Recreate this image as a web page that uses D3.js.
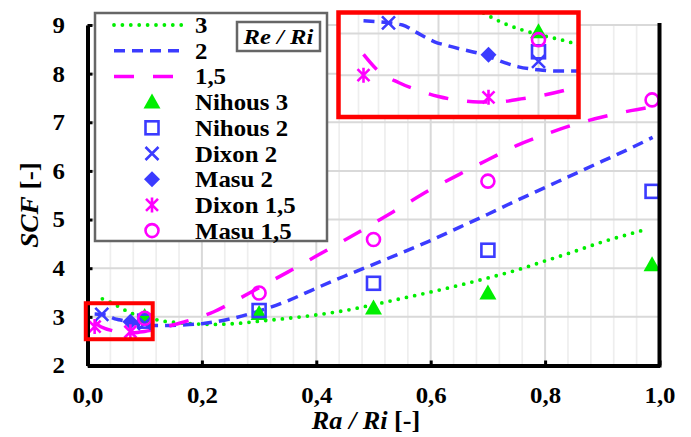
<!DOCTYPE html>
<html>
<head>
<meta charset="utf-8">
<script src="https://cdn.jsdelivr.net/npm/d3@7"></script>
<style>
body { margin: 0; background: #fff; }
</style>
</head>
<body>
<script>
// fitted curves (Re/Ri = 3, 2, 1,5)
const curve3 = [[0.026,3.37],[0.04,3.30],[0.072,3.10],[0.083,3.047],[0.092,3.016],[0.102,2.99],[0.115,2.96],[0.124,2.93],[0.15,2.89],[0.18,2.86],[0.22,2.845],[0.267,2.87],[0.3,2.91],[0.35,2.97],[0.4,3.04],[0.45,3.13],[0.5,3.25],[0.55,3.38],[0.6,3.51],[0.65,3.65],[0.7,3.80],[0.75,3.96],[0.8,4.15],[0.85,4.34],[0.9,4.54],[0.95,4.71],[0.977,4.80]]
const curve2 = [[0.0125,3.06],[0.032,3.04],[0.038,3.01],[0.048,2.96],[0.055,2.94],[0.075,2.89],[0.083,2.86],[0.09,2.84],[0.1,2.826],[0.11,2.82],[0.121,2.82],[0.16,2.83],[0.2,2.86],[0.25,2.96],[0.3,3.12],[0.35,3.33],[0.4,3.59],[0.45,3.84],[0.5,4.08],[0.55,4.32],[0.6,4.57],[0.65,4.84],[0.7,5.11],[0.75,5.39],[0.8,5.66],[0.85,5.93],[0.9,6.2],[0.95,6.47],[0.988,6.69]]
const curve15 = [[0.0125,2.90],[0.02,2.82],[0.03,2.765],[0.04,2.727],[0.05,2.698],[0.06,2.68],[0.07,2.672],[0.08,2.672],[0.09,2.685],[0.1,2.70],[0.12,2.745],[0.155,2.85],[0.19,2.97],[0.22,3.10],[0.255,3.31],[0.3,3.60],[0.35,3.92],[0.4,4.25],[0.45,4.58],[0.5,4.92],[0.55,5.27],[0.6,5.62],[0.65,5.93],[0.7,6.23],[0.75,6.52],[0.8,6.75],[0.85,6.95],[0.9,7.11],[0.95,7.24],[0.988,7.32]]

// measured points
const nihous3 = [[0.1,3.008],[0.3,3.07],[0.5,3.18],[0.7,3.49],[0.987,4.07]]
const nihous2 = [[0.1,2.912],[0.3,3.13],[0.5,3.69],[0.7,4.37],[0.987,5.58]]
const dixon2 = [[0.025,3.05],[0.1,2.866]]
const masu2 = [[0.075,2.898]]
const dixon15 = [[0.0125,2.80],[0.075,2.694]]
const masu15 = [[0.1,2.97],[0.3,3.49],[0.5,4.59],[0.7,5.79],[0.987,7.46]]

const xTicks = [0, 0.2, 0.4, 0.6, 0.8, 1.0]
const xTickLabels = ["0,0", "0,2", "0,4", "0,6", "0,8", "1,0"]
const yTicks = [2, 3, 4, 5, 6, 7, 8, 9]
const legendLabels = ["3", "2", "1,5", "Nihous 3", "Nihous 2", "Dixon 2", "Masu 2", "Dixon 1,5", "Masu 1,5"]

// zoomed window shown in the red inset
const zoomX = [0, 0.12]
const zoomY = [2.6, 3.1]

const w = 691
const h = 437
const green = "#00ee00", blue = "#3b3bff", magenta = "#ff00ff"
const serif = "'Liberation Serif', 'Times New Roman', Tinos, serif"

const svg = d3.select("body").append("svg")
    .attr("width", w)
    .attr("height", h)

const x = d3.scaleLinear().domain([0, 1]).range([87.5, 659.5])
const y = d3.scaleLinear().domain([2, 9]).range([365.5, 25])

// grid
const minor = d3.range(0.04, 1, 0.04).filter(v => Math.abs(v / 0.2 - Math.round(v / 0.2)) > 0.01)
svg.append("g").selectAll("line").data(minor).enter().append("line")
    .attr("x1", d => x(d)).attr("x2", d => x(d))
    .attr("y1", y(9)).attr("y2", y(2))
    .attr("stroke", "#eeeeee").attr("stroke-width", 1.7)
svg.append("g").selectAll("line").data(xTicks.slice(1, -1)).enter().append("line")
    .attr("x1", d => x(d)).attr("x2", d => x(d))
    .attr("y1", y(9)).attr("y2", y(2))
    .attr("stroke", "#d9d9d9").attr("stroke-width", 2)
svg.append("g").selectAll("line").data(yTicks.slice(1)).enter().append("line")
    .attr("x1", x(0)).attr("x2", x(1))
    .attr("y1", d => y(d)).attr("y2", d => y(d))
    .attr("stroke", "#d9d9d9").attr("stroke-width", 2)

// marker shapes
function marker(g, type, cx, cy) {
    const s = g.append("g").attr("transform", "translate(" + cx + "," + cy + ")")
    if (type == "tri") {
        s.append("path").attr("d", "M0,-8.5L8.5,6.5L-8.5,6.5Z").attr("fill", green)
    } else if (type == "square") {
        s.append("rect").attr("x", -6.5).attr("y", -6.5).attr("width", 13).attr("height", 13)
            .attr("fill", "none").attr("stroke", blue).attr("stroke-width", 2.6)
    } else if (type == "x") {
        s.append("path").attr("d", "M-6.5,-6.5L6.5,6.5M-6.5,6.5L6.5,-6.5")
            .attr("stroke", blue).attr("stroke-width", 2.6)
    } else if (type == "diamond") {
        s.append("path").attr("d", "M0,-8L8,0L0,8L-8,0Z").attr("fill", blue)
    } else if (type == "star") {
        s.append("path").attr("d", "M-6,-6L6,6M-6,6L6,-6M0,-7.5L0,7.5")
            .attr("stroke", magenta).attr("stroke-width", 2.6)
    } else if (type == "circle") {
        s.append("circle").attr("r", 6.5).attr("fill", "none")
            .attr("stroke", magenta).attr("stroke-width", 2.6)
    }
}

const lineStyles = [
    { data: curve3, color: green, dash: "0,8.4", width: 3.8, cap: "round" },
    { data: curve2, color: blue, dash: "11,7", width: 3.5, cap: "butt" },
    { data: curve15, color: magenta, dash: "20,19", width: 3.5, cap: "butt" }
]
const pointSets = [
    { data: nihous3, type: "tri" },
    { data: nihous2, type: "square" },
    { data: dixon2, type: "x" },
    { data: masu2, type: "diamond" },
    { data: dixon15, type: "star" },
    { data: masu15, type: "circle" }
]

function drawSeries(g, xs, ys) {
    const line = d3.line().x(d => xs(d[0])).y(d => ys(d[1])).curve(d3.curveMonotoneX)
    lineStyles.forEach(l => {
        g.append("path").attr("d", line(l.data))
            .attr("fill", "none").attr("stroke", l.color)
            .attr("stroke-width", l.width).attr("stroke-dasharray", l.dash)
            .attr("stroke-linecap", l.cap)
    })
    pointSets.forEach(p => {
        p.data.forEach(d => marker(g, p.type, xs(d[0]), ys(d[1])))
    })
}

drawSeries(svg.append("g"), x, y)

// axes
const yAxis = d3.axisLeft(y).tickValues(yTicks).tickSize(-5).tickSizeOuter(0).tickPadding(20.8)
    .tickFormat(d => d)
const gy = svg.append("g").attr("transform", "translate(" + x(0) + ",0)").call(yAxis)
const xAxis = d3.axisBottom(x).tickValues(xTicks).tickSize(-5).tickSizeOuter(0).tickPadding(21)
    .tickFormat((d, i) => xTickLabels[i])
const gx = svg.append("g").attr("transform", "translate(0," + y(2) + ")").call(xAxis)
;[gx, gy].forEach(g => {
    g.attr("font-family", null)
    g.select(".domain").attr("stroke-width", 4).attr("stroke", "#000")
    g.selectAll(".tick line").attr("stroke-width", 3).attr("stroke", "#000")
    g.selectAll("text").style("font-family", serif).style("font-weight", "bold")
        .style("font-size", "23px").attr("fill", "#000").attr("transform", "scale(1.08,1)")
})
svg.append("line").attr("x1", x(1)).attr("x2", x(1)).attr("y1", y(9) - 2).attr("y2", y(2) + 2)
    .attr("stroke", "#000").attr("stroke-width", 4)

// axis titles
const yt = svg.append("text").attr("transform", "translate(38,205) rotate(-90) scale(1.05,1)")
    .attr("text-anchor", "middle")
    .style("font-family", serif).style("font-weight", "bold").style("font-size", "26px")
yt.append("tspan").style("font-style", "italic").text("SCF")
yt.append("tspan").text(" [-]")
const xt = svg.append("text").attr("transform", "translate(366,428.5) scale(1.05,1)")
    .attr("text-anchor", "middle")
    .style("font-family", serif).style("font-weight", "bold").style("font-size", "25px")
xt.append("tspan").style("font-style", "italic").text("Ra / Ri")
xt.append("tspan").text(" [-]")

// small highlight box around the zoomed region
svg.append("rect")
    .attr("x", x(-0.003)).attr("y", y(3.28))
    .attr("width", x(0.114) - x(-0.003)).attr("height", y(2.54) - y(3.28))
    .attr("fill", "none").attr("stroke", "#ff0000").attr("stroke-width", 4)

// legend
const lg = svg.append("g")
lg.append("rect").attr("x", 95).attr("y", 13).attr("width", 232).attr("height", 228)
    .attr("fill", "#fff").attr("stroke", "#666").attr("stroke-width", 2.5)
legendLabels.forEach((lab, i) => {
    const ly = 25 + i * 25.7
    if (i < 3) {
        const l = lineStyles[i]
        lg.append("line").attr("x1", 114).attr("x2", 186).attr("y1", ly).attr("y2", ly)
            .attr("stroke", l.color).attr("stroke-width", l.width)
            .attr("stroke-dasharray", l.dash).attr("stroke-linecap", l.cap)
    } else {
        marker(lg, pointSets[i - 3].type, 152, ly)
    }
    lg.append("text").attr("transform", "translate(195," + ly + ") scale(1.08,1)").attr("dy", "0.35em")
        .style("font-family", serif).style("font-weight", "bold").style("font-size", "23px").text(lab)
})
lg.append("rect").attr("x", 237).attr("y", 22).attr("width", 83).attr("height", 29)
    .attr("fill", "#fff").attr("stroke", "#666").attr("stroke-width", 2.5)
lg.append("text").attr("transform", "translate(278.5,36.5) scale(1.12,1)").attr("dy", "0.35em")
    .attr("text-anchor", "middle")
    .style("font-family", serif).style("font-weight", "bold").style("font-style", "italic")
    .style("font-size", "22px").text("Re / Ri")

// inset with the zoomed region
const xi = d3.scaleLinear().domain(zoomX).range([338.5, 578.5])
const yi = d3.scaleLinear().domain(zoomY).range([117, 12.5])
svg.append("clipPath").attr("id", "inclip").append("rect")
    .attr("x", xi(zoomX[0])).attr("y", yi(zoomY[1]))
    .attr("width", xi(zoomX[1]) - xi(zoomX[0])).attr("height", yi(zoomY[0]) - yi(zoomY[1]))
const ins = svg.append("g")
ins.append("rect")
    .attr("x", xi(zoomX[0])).attr("y", yi(zoomY[1]))
    .attr("width", xi(zoomX[1]) - xi(zoomX[0])).attr("height", yi(zoomY[0]) - yi(zoomY[1]))
    .attr("fill", "#fff")
const inner = ins.append("g").attr("clip-path", "url(#inclip)")
inner.selectAll(".iv").data(d3.range(1, 12)).enter().append("line")
    .attr("x1", d => xi(d / 100)).attr("x2", d => xi(d / 100))
    .attr("y1", yi(zoomY[1])).attr("y2", yi(zoomY[0]))
    .attr("stroke", d => d % 5 == 0 ? "#d9d9d9" : "#eeeeee")
    .attr("stroke-width", d => d % 5 == 0 ? 2 : 1.7)
inner.selectAll(".ih").data([2.8, 3.0]).enter().append("line")
    .attr("x1", xi(zoomX[0])).attr("x2", xi(zoomX[1]))
    .attr("y1", d => yi(d)).attr("y2", d => yi(d))
    .attr("stroke", "#d9d9d9").attr("stroke-width", 2)
drawSeries(inner, xi, yi)
ins.append("rect")
    .attr("x", xi(zoomX[0])).attr("y", yi(zoomY[1]))
    .attr("width", xi(zoomX[1]) - xi(zoomX[0])).attr("height", yi(zoomY[0]) - yi(zoomY[1]))
    .attr("fill", "none").attr("stroke", "#ff0000").attr("stroke-width", 4.5)
</script>
</body>
</html>
